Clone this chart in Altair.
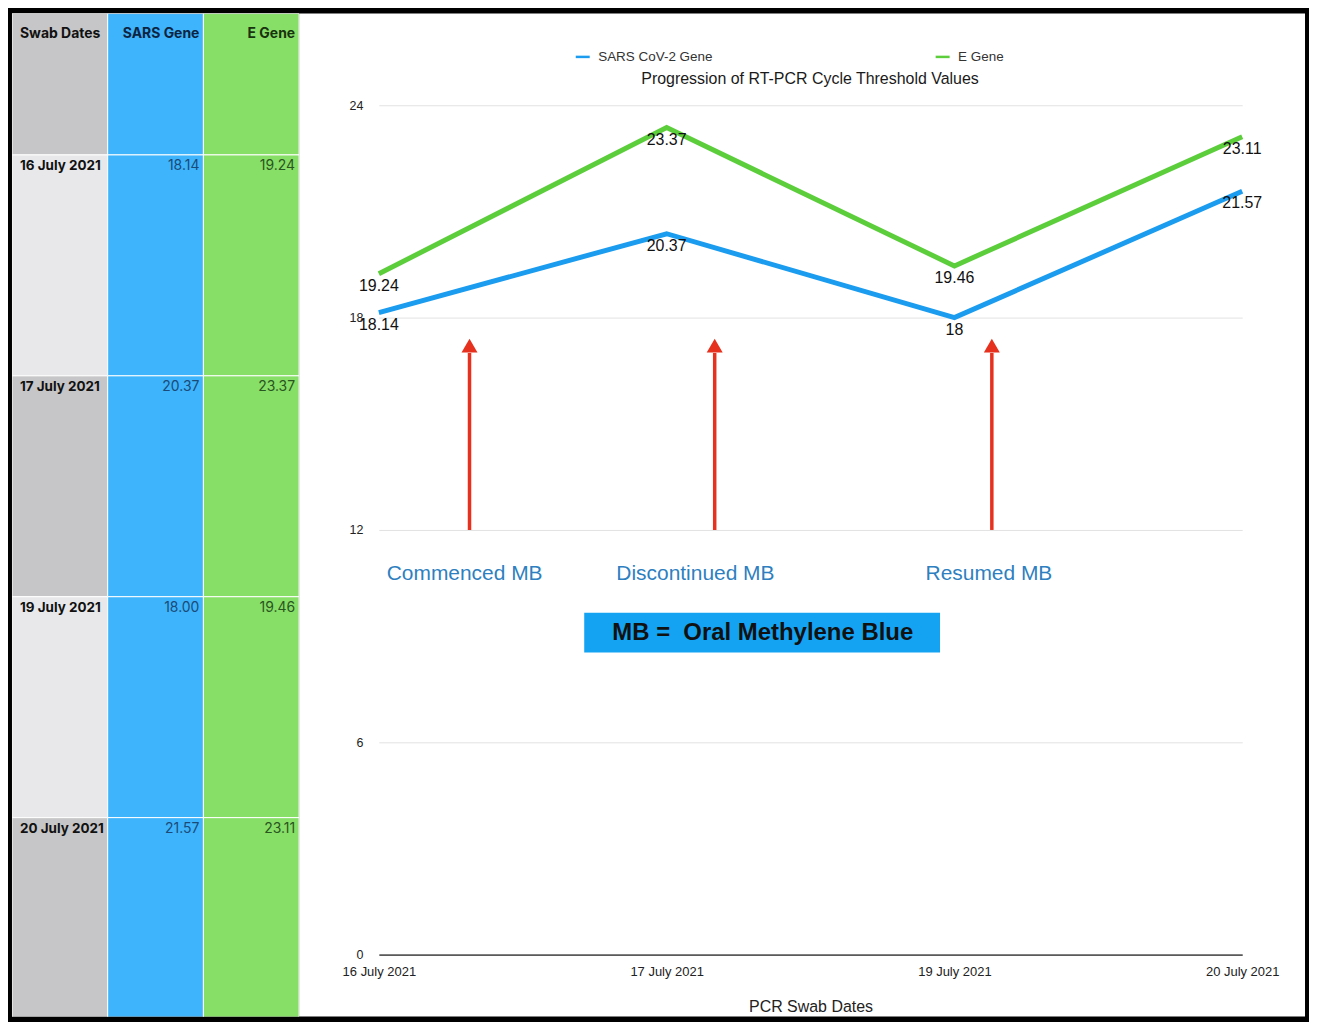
import json
import altair as alt
import pandas as pd

# ---------------- data ----------------
dates = ["16 July 2021", "17 July 2021", "19 July 2021", "20 July 2021"]
sars_ct = [18.14, 20.37, 18.00, 21.57]
e_gene_ct = [19.24, 23.37, 19.46, 23.11]
series_names = ["SARS CoV-2 Gene", "E Gene"]
table_headers = ["Swab Dates", "SARS Gene", "E Gene"]

# annotations (x in date-index units, y in Ct units)
arrow_x = [0.315, 1.167, 2.130]
arrow_base = [12.0, 12.0, 12.0]
arrow_neck = [17.0, 17.0, 17.0]
arrow_head = [17.21, 17.21, 17.21]
note_labels = ["Commenced MB", "Discontinued MB", "Resumed MB"]
note_x = [0.298, 1.100, 2.120]
note_y = [10.76, 10.76, 10.76]
key_text = ["MB =\u00a0 Oral Methylene Blue"]
key_x = [0.7136, 1.950]
key_y = [8.535, 9.662]
key_text_pos = [1.334, 9.10]

# ---------------- styles ----------------
FONT = "Liberation Sans"
TFONT = "Inter"
BLUE_LINE = "#1b9cef"
GREEN_LINE = "#5cce3c"
RED = "#e5311d"
HEADER_H = 0.64
TABLE_VISIBLE_END = 3.9
PANEL_H = 1006
PLOT_W = 1009

# ---------------- table panel ----------------
col_fill = {"SARS Gene": "#3db4fb", "E Gene": "#87df68"}
cells = []
for j, col in enumerate(table_headers):
    fill = "#c6c6c8" if col == "Swab Dates" else col_fill[col]
    tcol = {"Swab Dates": "#111111", "SARS Gene": "#0c2442", "E Gene": "#19330f"}[col]
    cells.append(dict(col=col, top=-HEADER_H, bottom=0.0, fill=fill, text=col,
                      tcolor=tcol, kind="header"))
for i, d in enumerate(dates):
    vals = [d, f"{sars_ct[i]:.2f}", f"{e_gene_ct[i]:.2f}"]
    for j, col in enumerate(table_headers):
        if col == "Swab Dates":
            fill = "#e8e8ea" if i % 2 == 0 else "#c6c6c8"
            tcol = "#111111"
            kind = "date"
        else:
            fill = col_fill[col]
            tcol = "#1c4a78" if col == "SARS Gene" else "#2a5520"
            kind = "value"
        cells.append(dict(col=col, top=float(i), bottom=float(i + 1), fill=fill,
                          text=vals[j], tcolor=tcol, kind=kind))
cells_df = pd.DataFrame(cells)

tx = alt.Scale(domain=table_headers, paddingInner=0, paddingOuter=0)
ty = alt.Scale(domain=[-HEADER_H, TABLE_VISIBLE_END], reverse=True, nice=False, zero=False)

tbase = alt.Chart(cells_df)
t_rect = tbase.mark_rect(stroke="white", strokeWidth=1, clip=True).encode(
    x=alt.X("col:N", scale=tx, axis=None),
    y=alt.Y("top:Q", scale=ty, axis=None),
    y2="bottom:Q",
    fill=alt.Fill("fill:N", scale=None),
)


def ttext(kind_filter, left, dy, bold, size):
    return tbase.transform_filter(kind_filter).mark_text(
        align="left" if left else "right", baseline="middle",
        dx=8 if left else -4, dy=dy, font=TFONT, fontSize=size,
        fontWeight="bold" if bold else "normal",
    ).encode(
        x=alt.X("col:N", scale=tx, axis=None, bandPosition=0 if left else 1),
        y=alt.Y("top:Q", scale=ty, axis=None),
        text="text:N",
        color=alt.Color("tcolor:N", scale=None),
    )


t_h_left = ttext("datum.kind == 'header' && datum.col == 'Swab Dates'", True, 21, True, 14)
t_h_right = ttext("datum.kind == 'header' && datum.col != 'Swab Dates'", False, 21, True, 14)
t_dates = ttext("datum.kind == 'date'", True, 11, True, 13.5)
t_vals = ttext("datum.kind == 'value'", False, 11, False, 14)

table = alt.layer(t_rect, t_h_left, t_h_right, t_dates, t_vals).properties(
    width=288, height=PANEL_H)

# ---------------- chart panel ----------------
line_df = pd.DataFrame({
    "idx": list(range(len(dates))) * 2,
    "date": dates * 2,
    "value": sars_ct + e_gene_ct,
    "series": [series_names[0]] * len(dates) + [series_names[1]] * len(dates),
})

xs = alt.Scale(domain=[0, len(dates) - 1], range=[80, 946], nice=False, zero=False)
ys = alt.Scale(domain=[0, 24], range=[944, 92], nice=False, zero=False)

label_expr = json.dumps(dates) + "[datum.value]"

x_axis = alt.Axis(
    orient="bottom", offset=-62, values=list(range(len(dates))), labelExpr=label_expr,
    title="PCR Swab Dates", titleFont=FONT, titleFontSize=16, titleFontWeight="normal",
    titleColor="#222222", titlePadding=20, labelFont=FONT, labelFontSize=13,
    labelColor="#222222", labelPadding=11, labelFlush=False, ticks=False, grid=False,
    domain=True, domainColor="#5a5a5a", domainWidth=1.6,
)
y_axis = alt.Axis(
    orient="left", offset=-80, values=[0, 6, 12, 18, 24], title=None, labelFont=FONT,
    labelFontSize=12.5, labelColor="#222222", labelPadding=16, labelFlush=False,
    ticks=False, domain=False, grid=True, gridColor="#e2e2e2", gridWidth=1,
)

lines = alt.Chart(line_df).mark_line(strokeWidth=5, strokeJoin="miter").encode(
    x=alt.X("idx:Q", scale=xs, axis=x_axis),
    y=alt.Y("value:Q", scale=ys, axis=y_axis),
    color=alt.Color(
        "series:N",
        scale=alt.Scale(domain=series_names, range=[BLUE_LINE, GREEN_LINE]),
        legend=alt.Legend(
            orient="none", legendX=276, legendY=35, direction="horizontal", title=None,
            symbolType="stroke", symbolSize=196, symbolStrokeWidth=2.5,
            labelFont=FONT, labelFontSize=13.5, labelColor="#333333",
            columnPadding=218, labelOffset=7, padding=0,
        ),
    ),
    detail="series:N",
)

value_labels = alt.Chart(line_df).mark_text(
    baseline="middle", dy=12, font=FONT, fontSize=16, color="#111111"
).encode(
    x=alt.X("idx:Q", scale=xs),
    y=alt.Y("value:Q", scale=ys),
    text=alt.Text("value:Q", format=".2~f"),
)

arrow_df = pd.DataFrame({"x": arrow_x, "base": arrow_base, "neck": arrow_neck,
                         "head": arrow_head})
arrow_shaft = alt.Chart(arrow_df).mark_rule(color=RED, strokeWidth=3.5).encode(
    x=alt.X("x:Q", scale=xs), y=alt.Y("base:Q", scale=ys), y2="neck:Q")
arrow_tip = alt.Chart(arrow_df).mark_point(
    shape="triangle-up", filled=True, size=256, color=RED, opacity=1, strokeWidth=0
).encode(x=alt.X("x:Q", scale=xs), y=alt.Y("head:Q", scale=ys))

notes_df = pd.DataFrame({"x": note_x, "y": note_y, "label": note_labels})
notes = alt.Chart(notes_df).mark_text(
    font=FONT, fontSize=21, color="#2e7fc0", baseline="middle"
).encode(x=alt.X("x:Q", scale=xs), y=alt.Y("y:Q", scale=ys), text="label:N")

key_df = pd.DataFrame({"x1": [key_x[0]], "x2": [key_x[1]], "y1": [key_y[0]],
                       "y2": [key_y[1]], "tx": [key_text_pos[0]],
                       "ty": [key_text_pos[1]], "label": key_text})
key_box = alt.Chart(key_df).mark_rect(color="#14a3f2").encode(
    x=alt.X("x1:Q", scale=xs), x2="x2:Q", y=alt.Y("y1:Q", scale=ys), y2="y2:Q")
key_label = alt.Chart(key_df).mark_text(
    font=FONT, fontSize=24, fontWeight="bold", color="#111111", baseline="middle"
).encode(x=alt.X("tx:Q", scale=xs), y=alt.Y("ty:Q", scale=ys), text="label:N")

plot = alt.layer(
    arrow_shaft, arrow_tip, notes, key_box, key_label, lines, value_labels
).properties(
    width=PLOT_W, height=PANEL_H,
    title=alt.TitleParams(
        text="Progression of RT-PCR Cycle Threshold Values", anchor="middle",
        frame="group", offset=-82, baseline="middle", dx=8, font=FONT, fontSize=16,
        fontWeight="normal", color="#1a1a1a",
    ),
)

chart = alt.hconcat(table, plot, spacing=0).resolve_scale(
    color="independent").resolve_legend(color="independent").properties(
    background="black",
    padding={"left": 4, "top": 4, "right": 4, "bottom": 4},
).configure(font=FONT).configure_view(fill="white", strokeWidth=0)

chart.save("out.html", embed_options={"renderer": "svg", "actions": False})
